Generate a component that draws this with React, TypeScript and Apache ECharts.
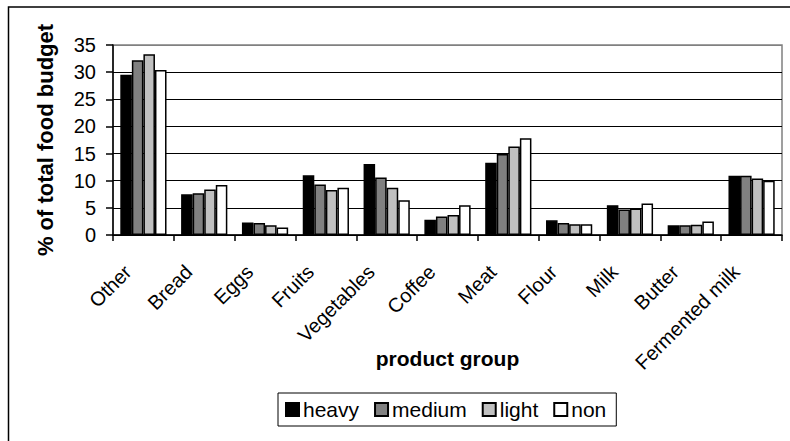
import React, { useEffect, useRef } from "react";
import * as echarts from "echarts";

const categories = ["Other", "Bread", "Eggs", "Fruits", "Vegetables", "Coffee", "Meat", "Flour", "Milk", "Butter", "Fermented milk"];
const heavy = [29.5, 7.5, 2.3, 11.0, 13.1, 2.8, 13.3, 2.7, 5.5, 1.8, 10.9];
const medium = [32.2, 7.7, 2.2, 9.3, 10.6, 3.4, 14.9, 2.2, 4.7, 1.8, 10.9];
const light = [33.3, 8.4, 1.8, 8.3, 8.7, 3.7, 16.3, 2.0, 4.9, 1.9, 10.4];
const non = [30.4, 9.2, 1.4, 8.7, 6.4, 5.5, 17.8, 2.0, 5.8, 2.5, 10.0];
const seriesNames = ["heavy", "medium", "light", "non"];
const seriesColors = ["#000000", "#808080", "#c0c0c0", "#ffffff"];

const FONT = 'Arial, "Liberation Sans", sans-serif';

export default function App() {
  const ref = useRef<HTMLDivElement>(null);
  useEffect(() => {
    if (!ref.current) return;
    const chart = echarts.init(ref.current, null, { renderer: "svg" });
    const data = [heavy, medium, light, non];
    chart.setOption({
      animation: false,
      backgroundColor: "#ffffff",
      textStyle: { fontFamily: FONT, color: "#000" },
      graphic: [
        {
          type: "rect",
          shape: { x: 8.5, y: 7, width: 900, height: 600 },
          style: { fill: "none", stroke: "#000", lineWidth: 1.5 },
          z: -1,
        },
      ],
      grid: {
        left: 113,
        top: 45,
        width: 669,
        height: 190,
        show: true,
        borderColor: "#808080",
        borderWidth: 1.5,
        backgroundColor: "transparent",
      },
      legend: {
        left: 278,
        top: 393,
        orient: "horizontal",
        data: seriesNames,
        icon: "rect",
        itemWidth: 13,
        itemHeight: 13,
        itemGap: 15,
        padding: [6, 10, 6, 7],
        borderColor: "#000",
        borderWidth: 1,
        textStyle: { fontFamily: FONT, fontSize: 21, color: "#000", padding: [0, 0, 0, -1] },
      },
      xAxis: {
        type: "category",
        data: categories,
        name: "product group",
        nameLocation: "middle",
        nameGap: 113,
        nameMoveOverlap: false,
        nameTextStyle: { fontFamily: FONT, fontSize: 21, fontWeight: "bold", color: "#000" },
        axisLine: { lineStyle: { color: "#000", width: 1.5 } },
        axisTick: { show: true, length: 6, lineStyle: { color: "#000", width: 1.5 } },
        axisLabel: {
          rotate: 45,
          interval: 0,
          margin: 18,
          fontFamily: FONT,
          fontSize: 20,
          color: "#000",
          padding: [0, 22, 0, 0],
        },
      },
      yAxis: {
        type: "value",
        min: 0,
        max: 35,
        interval: 5,
        name: "% of total food budget",
        nameLocation: "middle",
        nameGap: 57,
        nameTextStyle: { fontFamily: FONT, fontSize: 22, fontWeight: "bold", color: "#000" },
        axisLine: { show: true, lineStyle: { color: "#000", width: 1.5 } },
        axisTick: { show: true, length: 7, lineStyle: { color: "#000", width: 1.5 } },
        axisLabel: { margin: 17, fontFamily: FONT, fontSize: 20, color: "#000" },
        splitLine: {
          show: true,
          lineStyle: {
            color: ["#000", "#000", "#000", "#000", "#000", "#000", "#000", "#808080"],
            width: 1,
          },
        },
      },
      series: seriesNames.map((name, i) => ({
        name,
        type: "bar",
        data: data[i],
        barGap: "0%",
        barCategoryGap: "24%",
        itemStyle: { color: seriesColors[i], borderColor: "#000", borderWidth: 1.5 },
      })),
    });
    return () => chart.dispose();
  }, []);
  return (
    <div
      ref={ref}
      style={{ position: "fixed", left: 0, top: 0, width: 790, height: 441 }}
    />
  );
}
